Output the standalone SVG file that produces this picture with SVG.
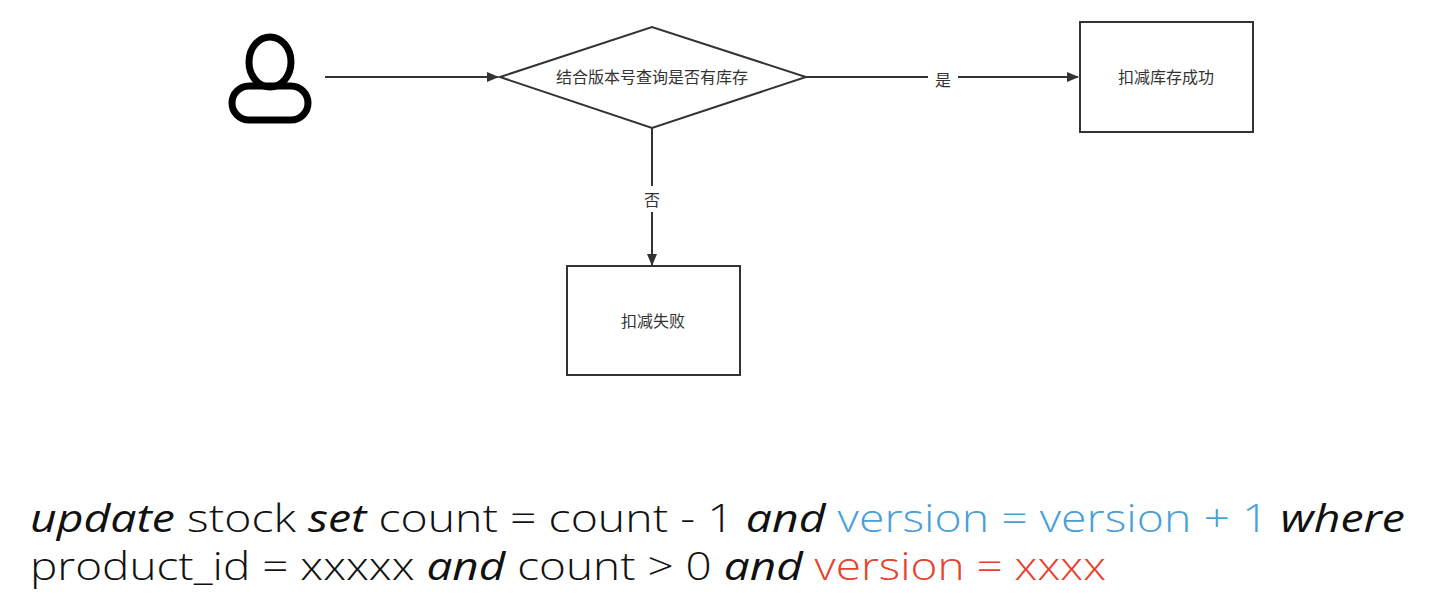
<svg xmlns="http://www.w3.org/2000/svg" width="1440" height="606" viewBox="0 0 1440 606">
<style>
.n{fill:#fff;stroke:#333;stroke-width:2}
.c{stroke:#333;stroke-width:2;fill:none}
.t{font-family:"Noto Sans CJK SC",sans-serif;font-size:16px;fill:#333;text-anchor:middle}
.b{font-family:"Open Sans","Noto Sans CJK SC",sans-serif;font-size:38px;font-weight:300;fill:#111}
.i{font-style:italic;font-weight:400}
</style>
<defs><marker id="a" markerWidth="12" markerHeight="10" refX="11" refY="5" orient="auto" markerUnits="userSpaceOnUse"><path d="M0,0L12,5L0,10z" fill="#333"/></marker></defs>
<rect width="1440" height="606" fill="#fff"/>
<g id="user"><ellipse cx="270" cy="62" rx="21" ry="25" fill="none" stroke="#000" stroke-width="7"/><rect x="232" y="86" width="76" height="34" rx="17" fill="none" stroke="#000" stroke-width="7"/></g>
<g id="connectors">
<path class="c" d="M325,77H498" marker-end="url(#a)"/>
<path class="c" d="M806,77H1078" marker-end="url(#a)"/>
<path class="c" d="M652,128V265" marker-end="url(#a)"/>
<rect x="928" y="66" width="30" height="24" fill="#fff"/><text class="t" x="943" y="86">是</text>
<rect x="640" y="186" width="24" height="26" fill="#fff"/><text class="t" x="652" y="206">否</text>
</g>
<g id="decision"><path class="n" d="M500,77L652,27L806,77L652,128Z"/><text class="t" x="652" y="83">结合版本号查询是否有库存</text></g>
<g id="success"><rect class="n" x="1080" y="22" width="173" height="110"/><text class="t" x="1166" y="83">扣减库存成功</text></g>
<g id="fail"><rect class="n" x="567" y="266" width="173" height="109"/><text class="t" x="653" y="327">扣减失败</text></g>
<g id="sql">
<text class="b" x="30" y="532" textLength="1375" lengthAdjust="spacingAndGlyphs"><tspan class="i">update</tspan> stock <tspan class="i">set</tspan> count = count - 1 <tspan class="i">and</tspan> <tspan fill="#4a9fd8">version = version + 1</tspan> <tspan class="i">where</tspan></text>
<text class="b" x="30" y="580" textLength="1076" lengthAdjust="spacingAndGlyphs">product_id = xxxxx <tspan class="i">and</tspan> count &gt; 0 <tspan class="i">and</tspan> <tspan fill="#e8412c">version = xxxx</tspan></text>
</g>
</svg>
